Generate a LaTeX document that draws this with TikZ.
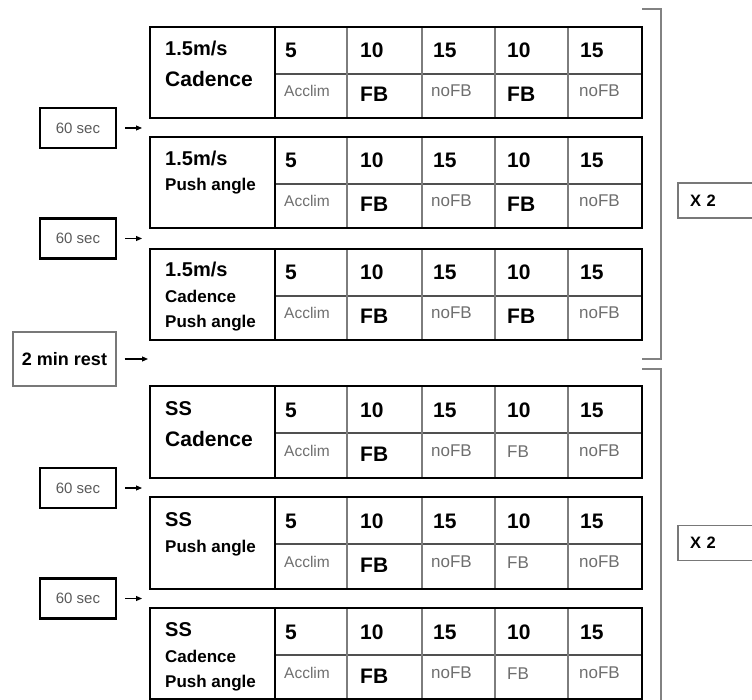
\documentclass[tikz,border=0pt]{standalone}
\usepackage{fontspec}
\setmainfont{Liberation Sans}
\usetikzlibrary{arrows.meta}

\begin{document}
\begin{tikzpicture}[x=1pt,y=1pt,yscale=-1,xscale=1,
  frame/.style={draw=black, line width=2.7pt},
  colline/.style={draw={rgb, 255:red, 125; green, 125; blue, 125 }, line width=1.1pt},
  rowline/.style={draw={rgb, 255:red, 80; green, 80; blue, 80 }, line width=1.6pt},
  bracket/.style={draw={rgb, 255:red, 130; green, 130; blue, 130 }, line width=1.3pt},
  txt/.style={anchor=base west, inner sep=0pt},
  lab/.style={txt, font=\bfseries\fontsize{20}{24}\selectfont},
  labbig/.style={txt, font=\bfseries\fontsize{21}{25}\selectfont},
  labsmall/.style={txt, font=\bfseries\fontsize{17}{20}\selectfont},
  num/.style={txt, font=\bfseries\fontsize{21}{25}\selectfont},
  fbon/.style={txt, font=\bfseries\fontsize{21}{25}\selectfont},
  fboff/.style={txt, text={rgb, 255:red, 110; green, 110; blue, 110 }, font=\fontsize{17}{20}\selectfont},
  nofb/.style={txt, text={rgb, 255:red, 110; green, 110; blue, 110 }, font=\fontsize{17}{20}\selectfont},
  acclim/.style={txt, text={rgb, 255:red, 110; green, 110; blue, 110 }, font=\fontsize{15.5}{18}\selectfont},
  waitbox/.style={draw=black, line width=2.5pt, minimum width=76pt, minimum height=40pt, inner sep=0pt,
    text={rgb, 255:red, 90; green, 90; blue, 90 }, font=\fontsize{15}{18}\selectfont},
  restbox/.style={draw={rgb, 255:red, 120; green, 120; blue, 120 }, line width=1.2pt, minimum width=103pt,
    minimum height=54pt, inner sep=0pt, font=\bfseries\fontsize{18}{21}\selectfont},
  repbox/.style={draw={rgb, 255:red, 120; green, 120; blue, 120 }, line width=1.2pt, minimum height=35pt,
    inner xsep=12pt, inner ysep=0pt, text width=88pt, align=left, font=\bfseries\fontsize{16.5}{19}\selectfont},
  flow/.style={draw=black, line width=1.1pt, shorten <=8pt, -{Triangle[length=6pt,width=5pt]}}
]
\path [use as bounding box] (0,0) rectangle (752,700);

%Shape: Table 1
\draw [rowline] (275,74) -- (642,74) ;
\draw [colline] (347,27) -- (347,118) ;
\draw [colline] (422,27) -- (422,118) ;
\draw [colline] (495,27) -- (495,118) ;
\draw [colline] (568,27) -- (568,118) ;
\draw [frame] (150,27) rectangle (642,118) ;
\draw [frame] (275,27) -- (275,118) ;
% Text Node
\node [lab] (t1a) at (165,56) {1.5m/s};
\node [labbig] (t1b) at (165,87) {Cadence};
\node [num] (t1n1) at (285,58) {5};
\node [num] (t1n2) at (360,58) {10};
\node [num] (t1n3) at (433,58) {15};
\node [num] (t1n4) at (507,58) {10};
\node [num] (t1n5) at (580,58) {15};
\node [acclim] (t1f1) at (284,97) {Acclim};
\node [fbon] (t1f2) at (360,102) {FB};
\node [nofb] (t1f3) at (431,97) {noFB};
\node [fbon] (t1f4) at (507,102) {FB};
\node [nofb] (t1f5) at (579,97) {noFB};

%Shape: Table 2
\draw [rowline] (275,184) -- (642,184) ;
\draw [colline] (347,137) -- (347,228) ;
\draw [colline] (422,137) -- (422,228) ;
\draw [colline] (495,137) -- (495,228) ;
\draw [colline] (568,137) -- (568,228) ;
\draw [frame] (150,137) rectangle (642,228) ;
\draw [frame] (275,137) -- (275,228) ;
% Text Node
\node [lab] (t2a) at (165,166) {1.5m/s};
\node [labsmall] (t2b) at (165,191) {Push angle};
\node [num] (t2n1) at (285,168) {5};
\node [num] (t2n2) at (360,168) {10};
\node [num] (t2n3) at (433,168) {15};
\node [num] (t2n4) at (507,168) {10};
\node [num] (t2n5) at (580,168) {15};
\node [acclim] (t2f1) at (284,207) {Acclim};
\node [fbon] (t2f2) at (360,212) {FB};
\node [nofb] (t2f3) at (431,207) {noFB};
\node [fbon] (t2f4) at (507,212) {FB};
\node [nofb] (t2f5) at (579,207) {noFB};

%Shape: Table 3
\draw [rowline] (275,296) -- (642,296) ;
\draw [colline] (347,249) -- (347,340) ;
\draw [colline] (422,249) -- (422,340) ;
\draw [colline] (495,249) -- (495,340) ;
\draw [colline] (568,249) -- (568,340) ;
\draw [frame] (150,249) rectangle (642,340) ;
\draw [frame] (275,249) -- (275,340) ;
% Text Node
\node [lab] (t3a) at (165,277) {1.5m/s};
\node [labsmall] (t3b) at (165,303) {Cadence};
\node [labsmall] (t3c) at (165,328) {Push angle};
\node [num] (t3n1) at (285,280) {5};
\node [num] (t3n2) at (360,280) {10};
\node [num] (t3n3) at (433,280) {15};
\node [num] (t3n4) at (507,280) {10};
\node [num] (t3n5) at (580,280) {15};
\node [acclim] (t3f1) at (284,319) {Acclim};
\node [fbon] (t3f2) at (360,324) {FB};
\node [nofb] (t3f3) at (431,319) {noFB};
\node [fbon] (t3f4) at (507,324) {FB};
\node [nofb] (t3f5) at (579,319) {noFB};

%Shape: Table 4
\draw [rowline] (275,433) -- (642,433) ;
\draw [colline] (347,386) -- (347,478) ;
\draw [colline] (422,386) -- (422,478) ;
\draw [colline] (495,386) -- (495,478) ;
\draw [colline] (568,386) -- (568,478) ;
\draw [frame] (150,386) rectangle (642,478) ;
\draw [frame] (275,386) -- (275,478) ;
% Text Node
\node [lab] (t4a) at (165,415) {SS};
\node [labbig] (t4b) at (165,446) {Cadence};
\node [num] (t4n1) at (285,417) {5};
\node [num] (t4n2) at (360,417) {10};
\node [num] (t4n3) at (433,417) {15};
\node [num] (t4n4) at (507,417) {10};
\node [num] (t4n5) at (580,417) {15};
\node [acclim] (t4f1) at (284,456) {Acclim};
\node [fbon] (t4f2) at (360,461) {FB};
\node [nofb] (t4f3) at (431,456) {noFB};
\node [fboff] (t4f4) at (507,457) {FB};
\node [nofb] (t4f5) at (579,456) {noFB};

%Shape: Table 5
\draw [rowline] (275,544) -- (642,544) ;
\draw [colline] (347,497) -- (347,589) ;
\draw [colline] (422,497) -- (422,589) ;
\draw [colline] (495,497) -- (495,589) ;
\draw [colline] (568,497) -- (568,589) ;
\draw [frame] (150,497) rectangle (642,589) ;
\draw [frame] (275,497) -- (275,589) ;
% Text Node
\node [lab] (t5a) at (165,526) {SS};
\node [labsmall] (t5b) at (165,552) {Push angle};
\node [num] (t5n1) at (285,528) {5};
\node [num] (t5n2) at (360,528) {10};
\node [num] (t5n3) at (433,528) {15};
\node [num] (t5n4) at (507,528) {10};
\node [num] (t5n5) at (580,528) {15};
\node [acclim] (t5f1) at (284,567) {Acclim};
\node [fbon] (t5f2) at (360,572) {FB};
\node [nofb] (t5f3) at (431,567) {noFB};
\node [fboff] (t5f4) at (507,568) {FB};
\node [nofb] (t5f5) at (579,567) {noFB};

%Shape: Table 6
\draw [rowline] (275,655) -- (642,655) ;
\draw [colline] (347,608) -- (347,699) ;
\draw [colline] (422,608) -- (422,699) ;
\draw [colline] (495,608) -- (495,699) ;
\draw [colline] (568,608) -- (568,699) ;
\draw [frame] (150,608) rectangle (642,699) ;
\draw [frame] (275,608) -- (275,699) ;
% Text Node
\node [lab] (t6a) at (165,636) {SS};
\node [labsmall] (t6b) at (165,662) {Cadence};
\node [labsmall] (t6c) at (165,687) {Push angle};
\node [num] (t6n1) at (285,639) {5};
\node [num] (t6n2) at (360,639) {10};
\node [num] (t6n3) at (433,639) {15};
\node [num] (t6n4) at (507,639) {10};
\node [num] (t6n5) at (580,639) {15};
\node [acclim] (t6f1) at (284,678) {Acclim};
\node [fbon] (t6f2) at (360,683) {FB};
\node [nofb] (t6f3) at (431,678) {noFB};
\node [fboff] (t6f4) at (507,679) {FB};
\node [nofb] (t6f5) at (579,678) {noFB};

%Shape: Brackets
\draw [bracket] (642,9) -- (661,9) -- (661,359) -- (642,359) ;
\draw [bracket] (642,369) -- (661,369) -- (661,712) ;

% Pause boxes
\node [waitbox] (w1) at (78,128) {60 sec};
\node [waitbox] (w2) at (78,238.5) {60 sec};
\node [restbox] (rest) at (64.5,359) {2 min rest};
\node [waitbox] (w3) at (78,488) {60 sec};
\node [waitbox] (w4) at (78,598.5) {60 sec};
\coordinate (g1) at (142,128) ;
\coordinate (g2) at (142,238.5) ;
\coordinate (g3) at (148,359) ;
\coordinate (g4) at (142,488) ;
\coordinate (g5) at (142,598.5) ;
\draw [flow] (w1) -- (g1) ;
\draw [flow] (w2) -- (g2) ;
\draw [flow] (rest) -- (g3) ;
\draw [flow] (w3) -- (g4) ;
\draw [flow] (w4) -- (g5) ;

% Repeat boxes
\node [repbox] (r1) at (734,200.5) {X 2};
\node [repbox] (r2) at (734,543) {X 2};

\end{tikzpicture}
\end{document}
